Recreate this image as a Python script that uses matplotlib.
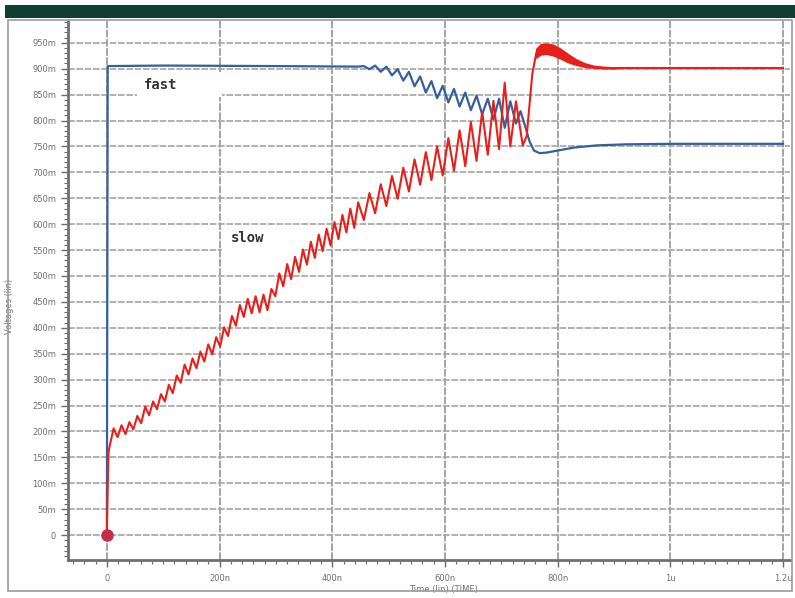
"""
Transient waveform screenshot: fast vs slow node voltages.
Values read off the reference picture (time in ns, voltage in mV).
"""

import matplotlib
matplotlib.use("Agg")
import matplotlib.pyplot as plt
from matplotlib.patches import Rectangle
from matplotlib.ticker import MultipleLocator

# ============================================
# Data
# ============================================
fast_t = [0, 1.5, 100, 300, 446,
          456, 466, 476, 486, 496, 506, 516, 526, 536, 546, 556, 566, 576,
          586, 596, 606, 616, 626, 636, 646, 656, 666, 676, 686, 696, 706,
          716, 726, 734, 742, 750, 758, 768, 780, 800, 830, 870, 920, 1000,
          1200]
fast_v = [0, 905, 906, 905, 904,
          905, 899, 906, 894, 904, 887, 899, 877, 894, 866, 885, 854, 876,
          843, 867, 835, 861, 827, 854, 820, 848, 812, 842, 802, 842, 786,
          837, 794, 818, 790, 760, 742, 737, 738, 742, 748, 752, 754, 755,
          755]

slow_t = [0, 1, 2, 3, 5,
          12, 19, 26, 33, 40, 47, 54, 61, 68, 75, 82, 89, 96, 103, 110, 117,
          124, 131, 138, 145, 152, 159, 166, 173, 180, 187, 194, 201, 208,
          215, 222, 229, 236, 243, 250, 257, 264, 271, 278, 285, 292, 299,
          306, 313, 320, 327, 334, 341, 348, 355, 362, 369, 376, 383, 390,
          397, 404, 411, 418, 425, 432, 439, 446,
          456, 466, 476, 486, 496, 506, 516, 526, 536, 546, 556, 566, 576,
          586, 596, 606, 616, 626, 636, 646, 656, 666, 676, 686, 696, 706,
          716, 726, 738, 745, 750, 755, 762]
slow_v = [0, 60, 120, 160, 172,
          206, 189, 212, 195, 218, 204, 230, 216, 248, 231, 258, 243, 272,
          258, 290, 274, 308, 294, 329, 310, 341, 322, 354, 335, 368, 349,
          382, 364, 401, 384, 423, 404, 444, 421, 456, 428, 461, 430, 464,
          434, 475, 461, 505, 480, 523, 494, 537, 508, 551, 522, 566, 535,
          580, 548, 591, 559, 604, 571, 618, 584, 630, 593, 642,
          608, 660, 621, 677, 635, 693, 649, 709, 663, 725, 676, 739, 685,
          750, 694, 766, 703, 781, 712, 797, 722, 817, 734, 838, 745, 873,
          750, 837, 752, 770, 830, 890, 930]

# ringing band after the slow node overshoots
band_t = [762, 770, 780, 792, 805, 818, 832, 848, 865, 885, 905]
band_hi = [938, 947, 948, 946, 938, 928, 918, 910, 905, 903, 902]
band_lo = [922, 928, 929, 926, 920, 913, 908, 904, 902, 901, 901]
settle_t = [905, 1200]
settle_v = [902, 902]

x_ticks = [0, 200, 400, 600, 800, 1000, 1200]
x_labels = ["0", "200n", "400n", "600n", "800n", "1u", "1.2u"]
y_ticks = list(range(0, 951, 50))
y_labels = ["0"] + [f"{v}m" for v in y_ticks[1:]]

blue = "#36609c"
red = "#e8201c"
grid_col = "#a4a4a4"
tick_col = "#6a6a6a"

# ============================================
# Figure / window chrome
# ============================================
fig = plt.figure(figsize=(7.95, 5.98), dpi=100)
fig.patches.append(Rectangle((0.006, 0.970), 0.994, 0.022, transform=fig.transFigure,
                             facecolor="#0d4030", edgecolor="none"))
fig.patches.append(Rectangle((0.010, 0.012), 0.986, 0.955, transform=fig.transFigure,
                             facecolor="none", edgecolor="#9c9c9c", linewidth=1.2))

ax = fig.add_axes([0.0855, 0.0635, 0.908, 0.9014])
ax.set_xlim(-69, 1212)
ax.set_ylim(-48, 992)

# grid
ax.set_xticks(x_ticks)
ax.set_xticklabels(x_labels)
ax.set_yticks(y_ticks)
ax.set_yticklabels(y_labels)
ax.xaxis.set_minor_locator(MultipleLocator(20))
ax.yaxis.set_minor_locator(MultipleLocator(10))
ax.grid(True, which="major", axis="x", color="#8c8c8c", linewidth=1.1,
        linestyle=(0, (5, 1)))
ax.grid(True, which="major", axis="y", color=grid_col, linewidth=1.2,
        linestyle=(0, (4, 1)))
ax.set_axisbelow(True)

ax.tick_params(axis="both", which="major", labelsize=6, labelcolor="#707070",
               color=tick_col, length=5, width=1)
ax.tick_params(axis="both", which="minor", color=tick_col, length=3, width=0.8)
ax.tick_params(axis="x", pad=5)

for s in ["top", "right"]:
    ax.spines[s].set_visible(False)
for s in ["left", "bottom"]:
    ax.spines[s].set_color("#707070")
    ax.spines[s].set_linewidth(2)

ax.set_xlabel("Time (lin) (TIME)", fontsize=6, color="#707070")
ax.xaxis.set_label_coords(0.52, -0.047)
ax.set_ylabel("Voltages (lin)", fontsize=6, color="#707070")
ax.yaxis.set_label_coords(-0.075, 0.47)

# ============================================
# Waveforms
# ============================================
ax.plot(fast_t, fast_v, color=blue, linewidth=1.6, zorder=3)
ax.plot(slow_t, slow_v, color=red, linewidth=1.5, zorder=4)
ax.fill_between(band_t, band_lo, band_hi, color=red, linewidth=1.3,
                edgecolor=red, zorder=4)
ax.plot(settle_t, settle_v, color=red, linewidth=1.5, zorder=4)
ax.plot([0], [0], marker="o", markersize=8, color="#c0304a", zorder=5)

# signal names on white backing boxes that cut the grid
ax.add_patch(Rectangle((53, 845), 151, 49, facecolor="white", edgecolor="none",
                       zorder=2))
ax.add_patch(Rectangle((204, 546), 139, 51, facecolor="white", edgecolor="none",
                       zorder=2))
ax.text(95, 869, "fast", fontsize=10, fontweight="bold", family="DejaVu Sans Mono",
        color="#333333", va="center", ha="center", zorder=6)
ax.text(250, 574, "slow", fontsize=10, fontweight="bold", family="DejaVu Sans Mono",
        color="#333333", va="center", ha="center", zorder=6)

fig.savefig("out.png", dpi=100)
